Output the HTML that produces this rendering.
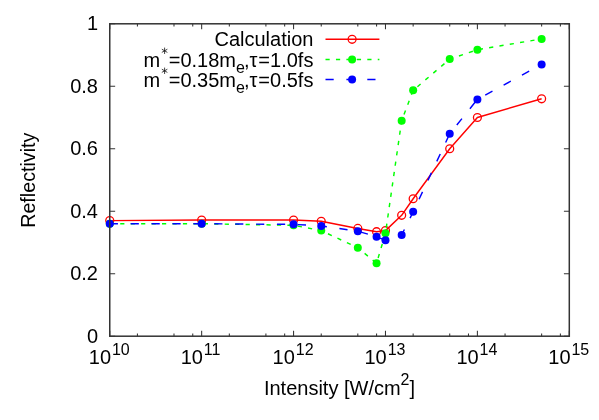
<!DOCTYPE html><html><head><meta charset="utf-8"><style>html,body{margin:0;padding:0;background:#fff}svg{display:block;will-change:transform;opacity:0.999}text{font-family:"Liberation Sans",sans-serif;fill:#000}</style></head><body>
<svg width="599" height="420" viewBox="0 0 599 420">
<rect width="599" height="420" fill="#fff"/>
<text x="98" y="342.8" font-size="20" text-anchor="end">0</text>
<text x="98" y="280.3" font-size="20" text-anchor="end">0.2</text>
<text x="98" y="217.8" font-size="20" text-anchor="end">0.4</text>
<text x="98" y="155.4" font-size="20" text-anchor="end">0.6</text>
<text x="98" y="92.9" font-size="20" text-anchor="end">0.8</text>
<text x="98" y="30.4" font-size="20" text-anchor="end">1</text>
<text x="88.8" y="364.3" font-size="20">10<tspan font-size="16" dy="-9.1" dx="0.9">10</tspan></text>
<text x="180.7" y="364.3" font-size="20">10<tspan font-size="16" dy="-9.1" dx="0.9">11</tspan></text>
<text x="272.6" y="364.3" font-size="20">10<tspan font-size="16" dy="-9.1" dx="0.9">12</tspan></text>
<text x="364.5" y="364.3" font-size="20">10<tspan font-size="16" dy="-9.1" dx="0.9">13</tspan></text>
<text x="456.4" y="364.3" font-size="20">10<tspan font-size="16" dy="-9.1" dx="0.9">14</tspan></text>
<text x="548.3" y="364.3" font-size="20">10<tspan font-size="16" dy="-9.1" dx="0.9">15</tspan></text>
<text x="339.5" y="394.5" font-size="20" text-anchor="middle">Intensity [W/cm<tspan font-size="16" dy="-9.3">2</tspan><tspan dy="9.3">]</tspan></text>
 <text transform="translate(35.2,180.2) rotate(-90)" font-size="19.7" text-anchor="middle">Reflectivity</text>
<text x="313.4" y="46.4" font-size="20" text-anchor="end">Calculation</text>
<text x="313.4" y="66.5" font-size="20" text-anchor="end">=0.18m<tspan font-size="16" dy="6.1">e</tspan><tspan dy="-6.1" dx="-0.8">,</tspan><tspan dx="-0.2">τ</tspan><tspan dx="1.0">=1.0fs</tspan></text>
<text x="143.4" y="66.5" font-size="20">m</text>
<path d="M164.60 47.60L164.60 54.00M161.83 49.20L167.37 52.40M167.37 49.20L161.83 52.40" stroke="#111" stroke-width="0.8" fill="none"/>
<text x="313.4" y="86.5" font-size="20" text-anchor="end">=0.35m<tspan font-size="16" dy="6.1">e</tspan><tspan dy="-6.1" dx="-0.8">,</tspan><tspan dx="-0.2">τ</tspan><tspan dx="1.0">=0.5fs</tspan></text>
<text x="143.4" y="86.5" font-size="20">m</text>
<path d="M164.60 67.60L164.60 74.00M161.83 69.20L167.37 72.40M167.37 69.20L161.83 72.40" stroke="#111" stroke-width="0.8" fill="none"/>
<path d="M325.5 39.3H379.4" stroke="#f00" stroke-width="1.45" fill="none"/>
<path d="M109.75 220.61 L201.66 219.99 L293.57 219.99 L321.24 221.24 L357.81 228.42 L376.57 231.70 L385.48 230.61 L401.66 215.30 L413.15 198.74 L449.72 148.76 L477.39 117.52 L541.63 98.78" stroke="#f00" stroke-width="1.45" fill="none" stroke-linejoin="round"/>
<circle cx="109.75" cy="220.61" r="3.95" fill="none" stroke="#f00" stroke-width="1.3"/>
<circle cx="201.66" cy="219.99" r="3.95" fill="none" stroke="#f00" stroke-width="1.3"/>
<circle cx="293.57" cy="219.99" r="3.95" fill="none" stroke="#f00" stroke-width="1.3"/>
<circle cx="321.24" cy="221.24" r="3.95" fill="none" stroke="#f00" stroke-width="1.3"/>
<circle cx="357.81" cy="228.42" r="3.95" fill="none" stroke="#f00" stroke-width="1.3"/>
<circle cx="376.57" cy="231.70" r="3.95" fill="none" stroke="#f00" stroke-width="1.3"/>
<circle cx="385.48" cy="230.61" r="3.95" fill="none" stroke="#f00" stroke-width="1.3"/>
<circle cx="401.66" cy="215.30" r="3.95" fill="none" stroke="#f00" stroke-width="1.3"/>
<circle cx="413.15" cy="198.74" r="3.95" fill="none" stroke="#f00" stroke-width="1.3"/>
<circle cx="449.72" cy="148.76" r="3.95" fill="none" stroke="#f00" stroke-width="1.3"/>
<circle cx="477.39" cy="117.52" r="3.95" fill="none" stroke="#f00" stroke-width="1.3"/>
<circle cx="541.63" cy="98.78" r="3.95" fill="none" stroke="#f00" stroke-width="1.3"/>
<circle cx="352.1" cy="39.3" r="3.95" fill="none" stroke="#f00" stroke-width="1.3"/>
<path d="M325.5 59.5H379.4" stroke="#0f0" stroke-width="1.45" fill="none" stroke-dasharray="4.2 6.25"/>
<path d="M109.75 223.74 L201.66 223.74 L293.57 225.30 L321.24 230.61 L357.81 247.79 L376.57 263.25 L385.48 233.23 L401.66 120.64 L413.15 90.34 L449.72 59.10 L477.39 49.73 L541.63 38.95" stroke="#0f0" stroke-width="1.45" fill="none" stroke-dasharray="4.2 6.25"/>
<circle cx="109.75" cy="223.74" r="4" fill="#0f0"/>
<circle cx="201.66" cy="223.74" r="4" fill="#0f0"/>
<circle cx="293.57" cy="225.30" r="4" fill="#0f0"/>
<circle cx="321.24" cy="230.61" r="4" fill="#0f0"/>
<circle cx="357.81" cy="247.79" r="4" fill="#0f0"/>
<circle cx="376.57" cy="263.25" r="4" fill="#0f0"/>
<circle cx="385.48" cy="233.23" r="4" fill="#0f0"/>
<circle cx="401.66" cy="120.64" r="4" fill="#0f0"/>
<circle cx="413.15" cy="90.34" r="4" fill="#0f0"/>
<circle cx="449.72" cy="59.10" r="4" fill="#0f0"/>
<circle cx="477.39" cy="49.73" r="4" fill="#0f0"/>
<circle cx="541.63" cy="38.95" r="4" fill="#0f0"/>
<circle cx="352.1" cy="59.5" r="4" fill="#0f0"/>
<path d="M325.5 79.5H379.4" stroke="#00f" stroke-width="1.45" fill="none" stroke-dasharray="8.2 12.7"/>
<path d="M109.75 223.74 L201.66 223.74 L293.57 224.36 L321.24 225.92 L357.81 231.23 L376.57 236.67 L385.48 240.29 L401.66 234.98 L413.15 211.86 L449.72 133.76 L477.39 99.40 L541.63 64.41" stroke="#00f" stroke-width="1.45" fill="none" stroke-dasharray="8.2 12.7"/>
<circle cx="109.75" cy="223.74" r="4" fill="#00f"/>
<circle cx="201.66" cy="223.74" r="4" fill="#00f"/>
<circle cx="293.57" cy="224.36" r="4" fill="#00f"/>
<circle cx="321.24" cy="225.92" r="4" fill="#00f"/>
<circle cx="357.81" cy="231.23" r="4" fill="#00f"/>
<circle cx="376.57" cy="236.67" r="4" fill="#00f"/>
<circle cx="385.48" cy="240.29" r="4" fill="#00f"/>
<circle cx="401.66" cy="234.98" r="4" fill="#00f"/>
<circle cx="413.15" cy="211.86" r="4" fill="#00f"/>
<circle cx="449.72" cy="133.76" r="4" fill="#00f"/>
<circle cx="477.39" cy="99.40" r="4" fill="#00f"/>
<circle cx="541.63" cy="64.41" r="4" fill="#00f"/>
<circle cx="352.1" cy="79.5" r="4" fill="#00f"/>
<path d="M109.75 336.2h5.4M569.3 336.2h-5.4M109.75 273.71999999999997h5.4M569.3 273.71999999999997h-5.4M109.75 211.24h5.4M569.3 211.24h-5.4M109.75 148.75999999999996h5.4M569.3 148.75999999999996h-5.4M109.75 86.28h5.4M569.3 86.28h-5.4M109.75 23.80000000000001h5.4M569.3 23.80000000000001h-5.4M109.75 336.2v-5.4M109.75 23.8v5.4M137.42 336.2v-2.8M137.42 23.8v2.8M173.99 336.2v-2.8M173.99 23.8v2.8M192.75 336.2v-2.8M192.75 23.8v2.8M201.66 336.2v-5.4M201.66 23.8v5.4M229.33 336.2v-2.8M229.33 23.8v2.8M265.90 336.2v-2.8M265.90 23.8v2.8M284.66 336.2v-2.8M284.66 23.8v2.8M293.57 336.2v-5.4M293.57 23.8v5.4M321.24 336.2v-2.8M321.24 23.8v2.8M357.81 336.2v-2.8M357.81 23.8v2.8M376.57 336.2v-2.8M376.57 23.8v2.8M385.48 336.2v-5.4M385.48 23.8v5.4M413.15 336.2v-2.8M413.15 23.8v2.8M449.72 336.2v-2.8M449.72 23.8v2.8M468.48 336.2v-2.8M468.48 23.8v2.8M477.39 336.2v-5.4M477.39 23.8v5.4M505.06 336.2v-2.8M505.06 23.8v2.8M541.63 336.2v-2.8M541.63 23.8v2.8M560.39 336.2v-2.8M560.39 23.8v2.8M569.30 336.2v-5.4M569.30 23.8v5.4" stroke="#333" stroke-width="1.05" fill="none"/>
<rect x="109.75" y="23.8" width="459.54999999999995" height="312.4" fill="none" stroke="#333" stroke-width="1.5"/>
</svg></body></html>
